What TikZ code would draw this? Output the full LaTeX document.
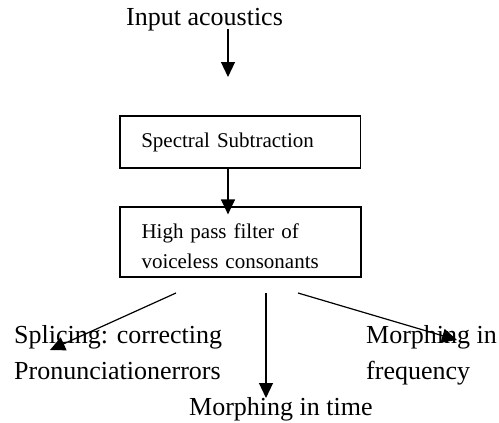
\documentclass[tikz,border=0pt]{standalone}
\usepackage{fontspec}
\setmainfont{Liberation Serif}
\usetikzlibrary{arrows.meta}
\begin{document}
\begin{tikzpicture}[x=1pt,y=-1pt,
  conn/.style={line width=1.2pt,-{Triangle[length=15pt,width=14pt]}},
  boxnode/.style={draw,line width=1.2pt,inner xsep=21pt,inner ysep=0pt,
    text width=198pt,align=left,font=\fontsize{21}{30}\selectfont},
  lbl/.style={inner sep=0pt,anchor=base west,align=left,font=\fontsize{26}{36}\selectfont}]
\useasboundingbox (0,0) rectangle (499,423);
\node[lbl] (input) at (126,26) {Input acoustics};
\coordinate (a1s) at (228,29);
\coordinate (a1e) at (228,77);
\draw[conn] (a1s) -- (a1e);
\node[boxnode,minimum width=240.5pt,minimum height=52pt] (box1) at (240.25,142) {Spectral Subtraction};
\node[boxnode,minimum width=241pt,minimum height=70pt] (box2) at (240.5,242) {\rule{0pt}{24pt}High pass filter of\\voiceless consonants};
\draw[conn] ([xshift=-12.25pt]box1.south) -- ([xshift=-12.5pt,yshift=-8pt]box2.north);
\node[lbl] (splice) at (14,379) {Splicing: correcting\\Pronunciationerrors};
\node[lbl] (freq) at (366,379) {Morphing in\\frequency};
\node[lbl] (time) at (189,415) {Morphing in time};
\coordinate (b1s) at (176,293);
\coordinate (b1e) at (50,350);
\coordinate (b2s) at (266,293);
\coordinate (b2e) at (266,398);
\coordinate (b3s) at (298,293);
\coordinate (b3e) at (457,340);
\draw[conn] (b1s) -- (b1e);
\draw[conn] (b2s) -- (b2e);
\draw[conn] (b3s) -- (b3e);
\end{tikzpicture}
\end{document}
